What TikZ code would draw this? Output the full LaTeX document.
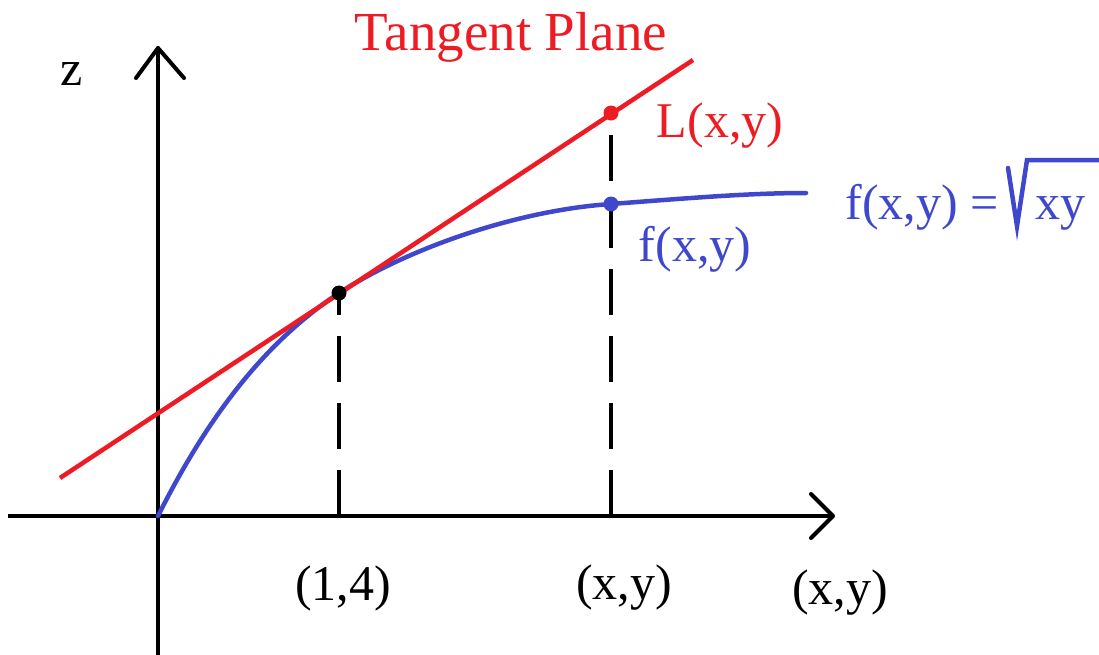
\documentclass[tikz,border=0pt]{standalone}
\usepackage{fontspec}
\setmainfont{Liberation Serif}
\definecolor{pred}{RGB}{237,28,36}
\definecolor{pblue}{RGB}{63,72,204}
\begin{document}
\begin{tikzpicture}[x=1pt,y=-1pt,
  axis/.style={line width=4pt,line cap=round,line join=round,black},
  guide/.style={line width=3.5pt,black,dash pattern=on 46pt off 21pt},
  lbl/.style={inner sep=0pt,anchor=base,font=\fontsize{50}{52}\selectfont},
  dot/.style={circle,inner sep=0pt,minimum size=15pt}]
\useasboundingbox (0,0) rectangle (1099,654);
% coordinates
\coordinate (O) at (158,516);
\coordinate (ytop) at (158,48);
\coordinate (ybot) at (158,660);
\coordinate (xleft) at (8,516);
\coordinate (xright) at (833,516);
\coordinate (tA) at (60,478);
\coordinate (tB) at (693,60);
\coordinate (P) at (339,293);
\coordinate (Px) at (339,516);
\coordinate (Qx) at (611,516);
\coordinate (QL) at (611,113);
\coordinate (Qf) at (611,204);
\coordinate (fend) at (806,193);
% axes
\draw[axis] (ybot) -- (ytop);
\draw[axis] (136,78) -- (ytop) -- (184,78);
\draw[axis,line cap=butt] (xleft) -- (xright);
\draw[axis] (811,494) -- (xright) -- (811,538);
% dashed guides
\draw[guide] (Px) -- (P);
\draw[guide] (Qx) -- (QL);
% curve
\draw[pblue,line width=4.5pt,line cap=round] (O) .. controls (218,396) and (279,333) .. (P)
  .. controls (410,247) and (520,210) .. (Qf)
  .. controls (690,198) and (750,193) .. (fend);
% tangent line
\draw[pred,line width=4.5pt] (tA) -- (tB);
% dots
\node[dot,fill=black] (Pd) at (P) {};
\node[dot,fill=pred] (QLd) at (QL) {};
\node[dot,fill=pblue] (Qfd) at (Qf) {};
% labels
\node[lbl,text=pred,font=\fontsize{55}{57}\selectfont] (tp) at (511,50) {Tangent Plane};
\node[lbl] (z) at (72,85) {z};
\node[lbl,text=pred] (Llab) at (720,137) {L(x,y)};
\node[lbl,text=pblue] (flab) at (695,261) {f(x,y)};
\node[lbl,text=pblue,anchor=base east] (feq) at (999,219) {f(x,y) =};
\draw[pblue,line width=4.5pt,line cap=round,line join=miter] (1008,168) -- (1017,226) -- (1027,160) -- (1099,160);
\node[lbl,text=pblue,anchor=base west] (xy) at (1035,219) {xy};
\node[lbl] (p14) at (343,600) {(1,4)};
\node[lbl] (pxy1) at (624,599) {(x,y)};
\node[lbl] (pxy2) at (840,604) {(x,y)};
\end{tikzpicture}
\end{document}
